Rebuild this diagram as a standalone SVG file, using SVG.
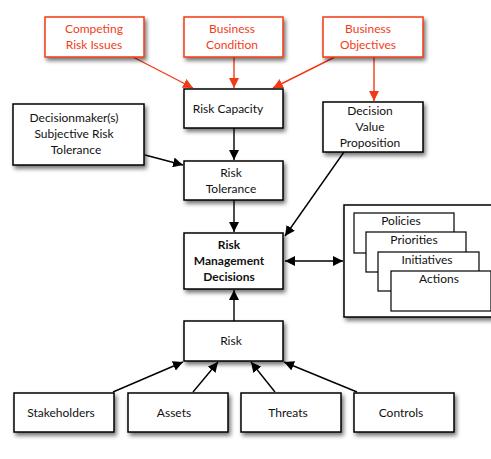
<svg xmlns="http://www.w3.org/2000/svg" width="491" height="459" viewBox="0 0 491 459">
  <style>
    .box { fill: #fff; stroke: #000; stroke-width: 1.5; filter: url(#shadow); }
    .rbox { fill: #fff; stroke: #f23a16; stroke-width: 1.5; filter: url(#shadow); }
    .inner { fill: #fff; stroke: #000; stroke-width: 1.2; }
    text { font-family: Lato, "Open Sans", "Liberation Sans", sans-serif; font-size: 12px; fill: #111; text-anchor: middle; }
    .red { fill: #f0401c; }
    .bold { font-weight: bold; }
    .edge { stroke: #000; stroke-width: 1.4; fill: none; marker-end: url(#arr); }
    .redge { stroke: #f23a16; stroke-width: 1.4; fill: none; marker-end: url(#rarr); }
  </style>
  <defs>
    <filter id="shadow" x="-20%" y="-20%" width="150%" height="160%">
      <feGaussianBlur in="SourceAlpha" stdDeviation="2"/>
      <feOffset dx="2" dy="3" result="b"/>
      <feComponentTransfer><feFuncA type="linear" slope="0.55"/></feComponentTransfer>
      <feMerge><feMergeNode/><feMergeNode in="SourceGraphic"/></feMerge>
    </filter>
    <marker id="arr" viewBox="0 0 10 10" refX="10" refY="5" markerWidth="10" markerHeight="10" markerUnits="userSpaceOnUse" orient="auto">
      <path d="M0,0 L10,5 L0,10 z" fill="#000"/>
    </marker>
    <marker id="arrs" viewBox="0 0 10 10" refX="0" refY="5" markerWidth="10" markerHeight="10" markerUnits="userSpaceOnUse" orient="auto">
      <path d="M10,0 L0,5 L10,10 z" fill="#000"/>
    </marker>
    <marker id="rarr" viewBox="0 0 10 10" refX="10" refY="5" markerWidth="10" markerHeight="10" markerUnits="userSpaceOnUse" orient="auto">
      <path d="M0,0 L10,5 L0,10 z" fill="#f23a16"/>
    </marker>
  </defs>
  <rect width="491" height="459" fill="#fff"/>

  <g id="connectors">
    <line class="redge" x1="133" y1="57" x2="193" y2="88"/>
    <line class="redge" x1="234" y1="57" x2="234" y2="88"/>
    <line class="redge" x1="335" y1="57" x2="273" y2="88"/>
    <line class="redge" x1="374" y1="57" x2="374" y2="101"/>
    <line class="edge" x1="234" y1="128" x2="234" y2="160"/>
    <line class="edge" x1="145" y1="155" x2="183" y2="165"/>
    <line class="edge" x1="234" y1="200" x2="234" y2="232"/>
    <line class="edge" x1="344" y1="152" x2="285" y2="236"/>
    <line class="edge" x1="285" y1="261" x2="343" y2="261" marker-start="url(#arrs)"/>
    <line class="edge" x1="234" y1="321" x2="234" y2="290"/>
    <line class="edge" x1="113" y1="392" x2="183" y2="362"/>
    <line class="edge" x1="193" y1="392" x2="218" y2="362"/>
    <line class="edge" x1="275" y1="392" x2="251" y2="362"/>
    <line class="edge" x1="357" y1="392" x2="284" y2="362"/>
  </g>

  <g id="competing-risk-issues">
    <rect class="rbox" x="45" y="17" width="99" height="40"/>
    <text class="red" x="94" y="33">Competing</text>
    <text class="red" x="94" y="49">Risk Issues</text>
  </g>
  <g id="business-condition">
    <rect class="rbox" x="184" y="17" width="99" height="40"/>
    <text class="red" x="232" y="33">Business</text>
    <text class="red" x="232" y="49">Condition</text>
  </g>
  <g id="business-objectives">
    <rect class="rbox" x="323" y="17" width="100" height="40"/>
    <text class="red" x="368" y="33">Business</text>
    <text class="red" x="368" y="49">Objectives</text>
  </g>

  <g id="risk-capacity">
    <rect class="box" x="184" y="89" width="99" height="39"/>
    <text x="228" y="113">Risk Capacity</text>
  </g>
  <g id="decision-value-proposition">
    <rect class="box" x="323" y="102" width="100" height="50"/>
    <text x="370" y="115">Decision</text>
    <text x="370" y="131">Value</text>
    <text x="370" y="147">Proposition</text>
  </g>
  <g id="subjective-risk-tolerance">
    <rect class="box" x="13" y="104" width="131" height="61"/>
    <text x="74" y="122">Decisionmaker(s)</text>
    <text x="74" y="138">Subjective Risk</text>
    <text x="76" y="154">Tolerance</text>
  </g>
  <g id="risk-tolerance">
    <rect class="box" x="184" y="161" width="99" height="39"/>
    <text x="231" y="177">Risk</text>
    <text x="231" y="193">Tolerance</text>
  </g>
  <g id="risk-management-decisions">
    <rect class="box" x="184" y="233" width="99" height="56"/>
    <text class="bold" x="229" y="249">Risk</text>
    <text class="bold" x="229" y="265">Management</text>
    <text class="bold" x="229" y="281">Decisions</text>
  </g>

  <g id="outcomes">
    <rect class="box" x="344" y="205" width="150" height="112"/>
    <rect class="inner" x="354" y="213" width="100" height="40"/>
    <text x="401" y="225">Policies</text>
    <rect class="inner" x="366" y="232" width="100" height="40"/>
    <text x="414" y="244">Priorities</text>
    <rect class="inner" x="378" y="252" width="101" height="39"/>
    <text x="427" y="264">Initiatives</text>
    <rect class="inner" x="391" y="271" width="100" height="40"/>
    <text x="439" y="283">Actions</text>
  </g>

  <g id="risk">
    <rect class="box" x="184" y="321" width="99" height="40"/>
    <text x="231" y="345">Risk</text>
  </g>

  <g id="stakeholders">
    <rect class="box" x="14" y="393" width="100" height="39"/>
    <text x="61" y="417">Stakeholders</text>
  </g>
  <g id="assets">
    <rect class="box" x="128" y="393" width="100" height="39"/>
    <text x="174" y="417">Assets</text>
  </g>
  <g id="threats">
    <rect class="box" x="241" y="393" width="100" height="39"/>
    <text x="288" y="417">Threats</text>
  </g>
  <g id="controls">
    <rect class="box" x="354" y="393" width="100" height="39"/>
    <text x="401" y="417">Controls</text>
  </g>
</svg>
